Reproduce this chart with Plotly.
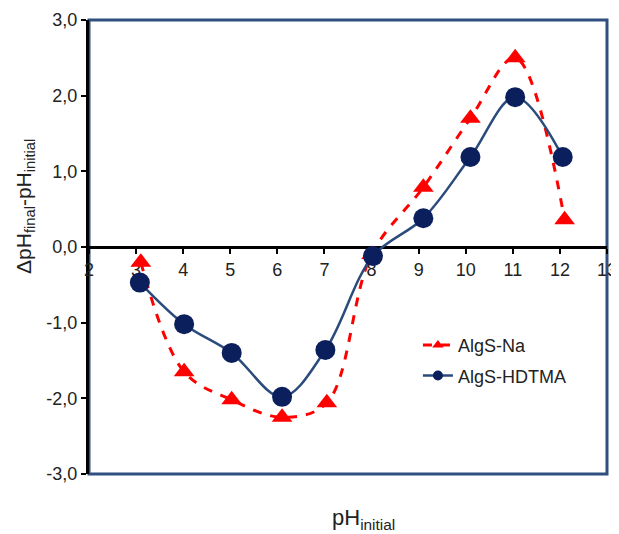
import plotly.graph_objects as go

ph_na = [3.1, 4.02, 5.03, 6.1, 7.05, 8.0, 9.1, 10.1, 11.05, 12.1]
delta_na = [-0.2, -1.65, -2.02, -2.25, -2.06, -0.1, 0.79, 1.70, 2.50, 0.36]

ph_hd = [3.08, 4.02, 5.03, 6.1, 7.02, 8.03, 9.1, 10.1, 11.05, 12.06]
delta_hd = [-0.47, -1.02, -1.40, -1.98, -1.36, -0.12, 0.38, 1.19, 1.98, 1.19]

x_ticks = [2, 3, 4, 5, 6, 7, 8, 9, 10, 11, 12, 13]
y_ticks = [-3, -2, -1, 0, 1, 2, 3]
y_tick_labels = ["-3,0", "-2,0", "-1,0", "0,0", "1,0", "2,0", "3,0"]

RED = "#FF0000"
NAVY = "#0B1F5C"
BLUE_LINE = "#2A4B7C"
FONT = "Liberation Sans, Arial, sans-serif"

fig = go.Figure()
fig.add_trace(go.Scatter(
    x=ph_na, y=delta_na, mode="lines+markers", name="AlgS-Na", showlegend=False,
    line=dict(color=RED, width=3, dash="dash", shape="spline", smoothing=1),
    marker=dict(symbol="triangle-up", size=18, color=RED)))
fig.add_trace(go.Scatter(
    x=ph_hd, y=delta_hd, mode="lines+markers", name="AlgS-HDTMA", showlegend=False,
    line=dict(color=BLUE_LINE, width=2.5, shape="spline", smoothing=1),
    marker=dict(symbol="circle", size=20, color=NAVY)))
# legend entries with small markers
fig.add_trace(go.Scatter(
    x=[None], y=[None], mode="lines+markers", name="AlgS-Na", legendgroup="a",
    line=dict(color=RED, width=3, dash="dash"),
    marker=dict(symbol="triangle-up", size=10, color=RED)))
fig.add_trace(go.Scatter(
    x=[None], y=[None], mode="lines+markers", name="AlgS-HDTMA", legendgroup="b",
    line=dict(color=BLUE_LINE, width=2.5),
    marker=dict(symbol="circle", size=10, color=NAVY)))

# page body has an 8px default margin; the figure is sized to compensate
fig.update_layout(
    width=611, height=526,
    margin=dict(l=81, r=12, t=12, b=60, autoexpand=False),
    paper_bgcolor="white", plot_bgcolor="white",
    font=dict(family=FONT, size=18, color="#222222"),
    showlegend=True,
    legend=dict(x=0.635, y=0.324, xanchor="left", yanchor="top",
                bgcolor="rgba(0,0,0,0)", font=dict(size=18, color="#222222"),
                tracegroupgap=4, borderwidth=0),
    xaxis=dict(range=[2, 13], tickvals=x_ticks, ticks="outside", ticklen=5,
               tickwidth=2, tickcolor="black", showline=True, linecolor="black",
               linewidth=3, showgrid=False, zeroline=False, automargin=False,
               anchor="free", position=0.5, tickfont=dict(size=18),
               ticklabeloverflow="allow", layer="below traces"),
    yaxis=dict(range=[-3, 3], tickvals=y_ticks, ticktext=y_tick_labels,
               ticks="outside", ticklen=5, tickwidth=2, tickcolor="black",
               showline=True, linecolor="black", linewidth=3, showgrid=False,
               zeroline=False, tickfont=dict(size=18), automargin=False,
               ticklabeloverflow="allow", layer="below traces"),
    shapes=[dict(type="rect", xref="paper", yref="paper", x0=0, x1=1, y0=0, y1=1,
                 line=dict(color="#2F4F7F", width=3), layer="below")],
    annotations=[
        dict(text="pH<sub>initial</sub>", xref="paper", yref="paper",
             x=0.529, y=-0.10, xanchor="center", yanchor="middle",
             showarrow=False, font=dict(size=22)),
        dict(text="ΔpH<sub>final</sub>-pH<sub>initial</sub>", xref="paper", yref="paper",
             x=-0.124, y=0.59, xanchor="center", yanchor="middle", textangle=-90,
             showarrow=False, font=dict(size=21)),
    ],
)

fig.write_html("out.html")
